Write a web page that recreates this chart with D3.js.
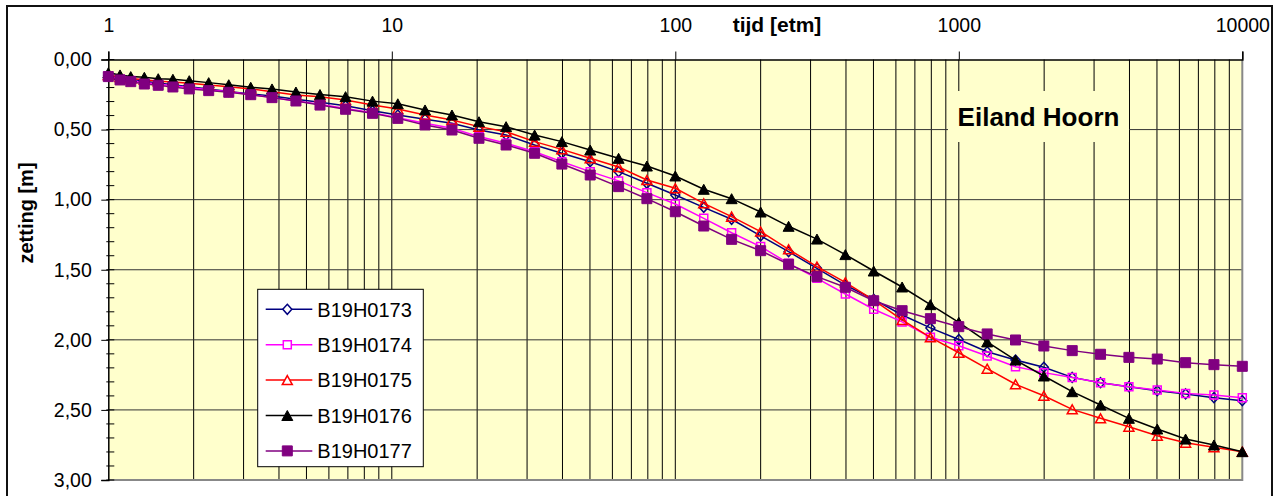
<!DOCTYPE html>
<html>
<head>
<meta charset="utf-8">
<script src="https://cdn.jsdelivr.net/npm/d3@7"></script>
<style>
  html, body { margin: 0; padding: 0; background: #fff; }
  svg { display: block; font-family: Arial, "Liberation Sans", sans-serif; }
</style>
</head>
<body>
<svg id="chart" width="1281" height="496"></svg>
<script>
// Time since start of loading [etm = etmaal, days]
const days = [1, 1.1, 1.2, 1.34, 1.5, 1.69, 1.93, 2.26, 2.66, 3.18, 3.78, 4.59, 5.58, 6.87, 8.55, 10.5,
  13.1, 16.3, 20.3, 25.3, 31.9, 39.8, 50.1, 63.1, 79.4, 100, 126, 158, 200, 251, 316, 398, 501,
  631, 794, 1000, 1259, 1585, 1995, 2512, 3162, 3981, 5012, 6310, 7943, 10000];

// Settlement [m] per measuring point
const b19h0173 = [0.115, 0.13, 0.14, 0.155, 0.168, 0.18, 0.195, 0.21, 0.228, 0.246, 0.26, 0.284, 0.305, 0.33, 0.365, 0.396,
  0.427, 0.455, 0.503, 0.539, 0.61, 0.669, 0.729, 0.80, 0.883, 0.967, 1.055, 1.14, 1.259, 1.371, 1.49, 1.609, 1.711,
  1.823, 1.915, 1.998, 2.085, 2.144, 2.196, 2.268, 2.306, 2.334, 2.363, 2.386, 2.413, 2.434];
const b19h0174 = [0.12, 0.14, 0.15, 0.165, 0.175, 0.187, 0.2, 0.215, 0.23, 0.25, 0.272, 0.296, 0.32, 0.35, 0.38, 0.415,
  0.455, 0.49, 0.55, 0.598, 0.658, 0.729, 0.80, 0.866, 0.95, 1.031, 1.133, 1.236, 1.335, 1.454, 1.561, 1.673, 1.782,
  1.872, 1.982, 2.042, 2.115, 2.192, 2.234, 2.268, 2.306, 2.334, 2.358, 2.382, 2.394, 2.413];
const b19h0175 = [0.11, 0.125, 0.135, 0.145, 0.155, 0.16, 0.17, 0.182, 0.195, 0.21, 0.23, 0.253, 0.265, 0.289, 0.325, 0.353,
  0.396, 0.432, 0.479, 0.515, 0.586, 0.641, 0.705, 0.767, 0.86, 0.919, 1.026, 1.121, 1.228, 1.354, 1.478, 1.59, 1.716,
  1.858, 1.982, 2.092, 2.206, 2.317, 2.399, 2.496, 2.56, 2.62, 2.684, 2.734, 2.767, 2.798];
const b19h0176 = [0.095, 0.11, 0.122, 0.127, 0.137, 0.141, 0.151, 0.165, 0.18, 0.198, 0.21, 0.232, 0.25, 0.265, 0.297, 0.316,
  0.36, 0.396, 0.444, 0.479, 0.539, 0.586, 0.646, 0.705, 0.76, 0.831, 0.926, 0.993, 1.088, 1.19, 1.281, 1.392, 1.509,
  1.623, 1.749, 1.875, 2.015, 2.144, 2.258, 2.37, 2.465, 2.56, 2.636, 2.708, 2.75, 2.798];
const b19h0177 = [0.122, 0.146, 0.158, 0.175, 0.184, 0.196, 0.21, 0.222, 0.234, 0.251, 0.272, 0.296, 0.325, 0.355, 0.384, 0.42,
  0.467, 0.503, 0.562, 0.61, 0.669, 0.746, 0.824, 0.907, 0.993, 1.086, 1.188, 1.283, 1.364, 1.461, 1.549, 1.625, 1.721,
  1.792, 1.849, 1.906, 1.958, 2.001, 2.044, 2.077, 2.103, 2.125, 2.137, 2.163, 2.177, 2.189];

const seriesNames = ["B19H0173", "B19H0174", "B19H0175", "B19H0176", "B19H0177"];
const xTickValues = [1, 10, 100, 1000, 10000];
const yTickValues = [0, 0.5, 1.0, 1.5, 2.0, 2.5, 3.0];
const xTitle = "tijd [etm]";
const yTitle = "zetting [m]";
const chartTitle = "Eiland Hoorn";

// ---- layout ----
const plot = { left: 108.3, right: 1242.3, top: 59.5, bottom: 480 };
const svg = d3.select("#chart");

const x = d3.scaleLog().domain([1, 10000]).range([plot.left, plot.right]);
const y = d3.scaleLinear().domain([0, 3]).range([plot.top, plot.bottom]);

// outer frame
svg.append("rect")
  .attr("x", 7).attr("y", 6).attr("width", 1265).attr("height", 500)
  .attr("fill", "#fff").attr("stroke", "#111").attr("stroke-width", 2);

// plot area background
svg.append("rect")
  .attr("x", plot.left).attr("y", plot.top)
  .attr("width", plot.right - plot.left).attr("height", plot.bottom - plot.top)
  .attr("fill", "#FFFFCC");

// vertical grid at every log tick
const logTicks = [];
for (let d = 1; d < 10000; d *= 10) for (let k = 1; k < 10; k++) logTicks.push(d * k);
const grid = svg.append("g");
grid.selectAll("line.v").data(logTicks.filter(v => v > 1)).join("line")
  .attr("x1", d => x(d)).attr("x2", d => x(d))
  .attr("y1", plot.top).attr("y2", plot.bottom)
  .attr("stroke", "#000").attr("stroke-width", 1);

// horizontal grid at major settlement ticks
grid.selectAll("line.h").data(yTickValues.filter(v => v > 0 && v < 3)).join("line")
  .attr("x1", plot.left).attr("x2", plot.right)
  .attr("y1", d => y(d)).attr("y2", d => y(d))
  .attr("stroke", "#333").attr("stroke-width", 1);

// plot area border (right and bottom in grey)
svg.append("path")
  .attr("d", `M${plot.right},${plot.top}V${plot.bottom}H${plot.left}`)
  .attr("fill", "none").attr("stroke", "#888").attr("stroke-width", 2);

// title box covering the grid
const titleBox = { x: 948, y: 91, w: 181, h: 51 };
svg.append("rect")
  .attr("x", titleBox.x).attr("y", titleBox.y).attr("width", titleBox.w).attr("height", titleBox.h)
  .attr("fill", "#FFFFCC");
svg.append("text")
  .attr("x", titleBox.x + titleBox.w / 2).attr("y", 125.7)
  .attr("text-anchor", "middle").attr("font-weight", "bold").attr("font-size", 26)
  .attr("fill", "#000").text(chartTitle);

// top axis (time)
const xAxis = svg.append("g").attr("transform", `translate(0,${plot.top})`)
  .call(d3.axisTop(x).tickValues(xTickValues).tickFormat(d3.format("d")).tickSize(8).tickPadding(20));
xAxis.select(".domain").attr("stroke", "#000").attr("stroke-width", 1.5);
xAxis.selectAll(".tick line").attr("stroke", "#000");
xAxis.selectAll(".tick text").attr("font-size", 19.5).attr("fill", "#000")
  .attr("font-family", "Arial, 'Liberation Sans', sans-serif");

svg.append("text")
  .attr("x", 777).attr("y", 31.5).attr("text-anchor", "middle")
  .attr("font-weight", "bold").attr("font-size", 21).text(xTitle);

// left axis (settlement)
const fmt = v => d3.format(".2f")(v).replace(".", ",");
const yAxis = svg.append("g").attr("transform", `translate(${plot.left},0)`)
  .call(d3.axisLeft(y).tickValues(yTickValues).tickFormat(fmt).tickSize(7).tickPadding(9.5));
yAxis.select(".domain").attr("stroke", "#000").attr("stroke-width", 1.5);
yAxis.selectAll(".tick line").attr("stroke", "#000");
yAxis.selectAll(".tick text").attr("font-size", 19.5).attr("fill", "#000")
  .attr("font-family", "Arial, 'Liberation Sans', sans-serif");

// minor ticks every 0.1 m, crossing the axis
const minorY = d3.range(0, 31).map(i => i / 10);
svg.append("g").selectAll("line").data(minorY).join("line")
  .attr("x1", plot.left - 2).attr("x2", plot.left + 6)
  .attr("y1", d => y(d)).attr("y2", d => y(d))
  .attr("stroke", "#000").attr("stroke-width", 1);

svg.append("text")
  .attr("transform", `translate(33,213) rotate(-90)`)
  .attr("text-anchor", "middle").attr("font-weight", "bold").attr("font-size", 20).text(yTitle);

// ---- series ----
const triangleBox = (w, h) => ({
  draw(ctx) {
    ctx.moveTo(0, -h / 2); ctx.lineTo(w / 2, h / 2); ctx.lineTo(-w / 2, h / 2); ctx.closePath();
  }
});
const squareBox = s => ({ draw(ctx) { ctx.rect(-s / 2, -s / 2, s, s); } });
const diamondBox = (w, h) => ({
  draw(ctx) {
    ctx.moveTo(0, -h / 2); ctx.lineTo(w / 2, 0); ctx.lineTo(0, h / 2); ctx.lineTo(-w / 2, 0); ctx.closePath();
  }
});

const series = [
  { name: seriesNames[0], values: b19h0173, color: "#000080", symbol: diamondBox(9, 10), filled: false },
  { name: seriesNames[1], values: b19h0174, color: "#FF00FF", symbol: squareBox(8), filled: false },
  { name: seriesNames[2], values: b19h0175, color: "#FF0000", symbol: triangleBox(10, 9), filled: false },
  { name: seriesNames[3], values: b19h0176, color: "#000000", symbol: triangleBox(11, 10), filled: true },
  { name: seriesNames[4], values: b19h0177, color: "#800080", symbol: squareBox(10), filled: true }
];

const line = d3.line().x(d => x(d.t)).y(d => y(d.v));
const marksG = svg.append("g");
series.forEach(s => {
  const pts = days.map((t, i) => ({ t, v: s.values[i] }));
  const g = marksG.append("g");
  g.append("path").datum(pts).attr("d", line)
    .attr("fill", "none").attr("stroke", s.color).attr("stroke-width", 1.5);
  g.selectAll("path.m").data(pts).join("path")
    .attr("class", "m")
    .attr("transform", d => `translate(${x(d.t)},${y(d.v)})`)
    .attr("d", d3.symbol().type(s.symbol)())
    .attr("fill", s.filled ? s.color : "none")
    .attr("stroke", s.color).attr("stroke-width", s.filled ? 1 : 1.5);
});

// ---- legend ----
const legend = svg.append("g");
legend.append("rect")
  .attr("x", 257.7).attr("y", 289.3).attr("width", 165.6).attr("height", 177.4)
  .attr("fill", "#fff").attr("stroke", "#000").attr("stroke-width", 1);
series.forEach((s, i) => {
  const cy = 309.3 + i * 35.4;
  const row = legend.append("g");
  row.append("line").attr("x1", 265.7).attr("x2", 312.3).attr("y1", cy).attr("y2", cy)
    .attr("stroke", s.color).attr("stroke-width", 1.5);
  row.append("path").attr("transform", `translate(287.3,${cy})`)
    .attr("d", d3.symbol().type(s.symbol)())
    .attr("fill", s.filled ? s.color : "#fff")
    .attr("stroke", s.color).attr("stroke-width", s.filled ? 1 : 1.5);
  row.append("text").attr("x", 317.3).attr("y", cy + 7.2)
    .attr("font-size", 20).attr("fill", "#000").text(s.name);
});
</script>
</body>
</html>
